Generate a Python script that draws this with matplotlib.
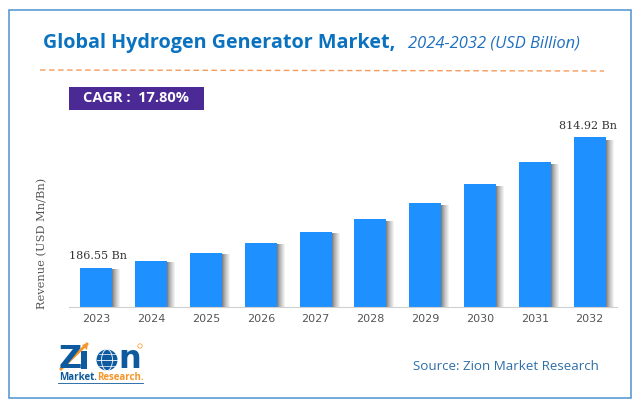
import matplotlib
matplotlib.use('Agg')
import matplotlib.pyplot as plt
from matplotlib.patches import Rectangle, Circle, Ellipse, Polygon

WIDTH = 641
HEIGHT = 408

years = ['2023', '2024', '2025', '2026', '2027', '2028', '2029', '2030', '2031', '2032']
revenue = [186.55, 220, 259, 305, 360, 420, 498, 590, 695, 814.92]
first_label = '186.55 Bn'
last_label = '814.92 Bn'


def px_axes(fig, left, top, right, bottom):
    return fig.add_axes([left / WIDTH, 1 - bottom / HEIGHT,
                         (right - left) / WIDTH, (bottom - top) / HEIGHT])


fig = plt.figure(figsize=(WIDTH / 100, HEIGHT / 100), dpi=100, facecolor='white')

# overlay in pixel coordinates for the frame, title and logo
bg = fig.add_axes([0, 0, 1, 1])
bg.set_xlim(0, WIDTH)
bg.set_ylim(HEIGHT, 0)
bg.axis('off')

bg.add_patch(Rectangle((8.5, 9.5), 622, 388, fill=False, ec='#5b9bd5', lw=1.2))

bg.text(43, 43, 'Global Hydrogen Generator Market,', family='Open Sans', fontweight='bold',
        fontsize=14.2, color='#0b72c0', va='center', ha='left')
bg.text(408, 44, '2024-2032 (USD Billion)', family='Open Sans', style='italic',
        fontsize=11.9, color='#1f6fbf', va='center', ha='left')
bg.plot([40, 604], [70, 71], color='#f59a5b', lw=1, dashes=(4, 2.5))

bg.add_patch(Rectangle((69, 87), 135, 23, fc='#4b2a96', ec='none'))
bg.text(136, 98.5, 'CAGR :  17.80%', family='Open Sans', fontweight='bold', fontsize=10.5,
        color='white', va='center', ha='center')

bg.text(42, 243, 'Revenue (USD Mn/Bn)', family='DejaVu Serif', fontsize=8.2, color='#555555',
        rotation=90, va='center', ha='center')
bg.text(413, 367, 'Source: Zion Market Research', family='Open Sans', fontsize=9.6,
        color='#2f6ea8', va='center', ha='left')

# logo
navy = '#0d5a9e'
orange = '#f5962a'
bg.text(59, 360, 'Z', family='DejaVu Sans', fontweight='bold', fontsize=23, color=navy,
        va='center', ha='left')
bg.plot([61, 87], [369, 344], color=orange, lw=2)
bg.add_patch(Polygon([[82, 345], [88, 343], [87, 350]], fc=orange, ec='none'))
bg.add_patch(Rectangle((81, 351), 6, 18, fc=navy, ec='none'))
bg.add_patch(Circle((107, 360), 10.5, fc=navy, ec='none'))
bg.add_patch(Ellipse((107, 360), 11, 21, fill=False, ec='white', lw=0.6))
bg.plot([97, 117], [360, 360], color='white', lw=0.6)
bg.plot([99, 115], [354, 354], color='white', lw=0.5)
bg.plot([99, 115], [366, 366], color='white', lw=0.5)
bg.text(130, 360, 'n', family='DejaVu Sans', fontweight='bold', fontsize=23, color=navy,
        va='center', ha='center')
bg.text(59, 378, 'Market.', family='Open Sans', fontweight='bold', fontsize=7, color=navy,
        va='center', ha='left')
bg.text(97, 378, 'Research.', family='Open Sans', fontweight='bold', fontsize=7, color=orange,
        va='center', ha='left')
bg.plot([58, 143], [383, 383], color=navy, lw=0.6)
bg.add_patch(Circle((140, 346), 2.2, fill=False, ec=orange, lw=0.5))

# chart, 1 data unit of x is one category slot
ax = px_axes(fig, 69, 110, 617, 307)
ax.patch.set_alpha(0)
positions = list(range(len(years)))
ax.set_xlim(-0.5, len(years) - 0.5)
ax.set_ylim(0, 197 / 170 * revenue[-1])

bar_w = 32 / 54.8
slot_px = 54.8

# soft shadow on the right of each bar, built from thin steps
steps = 9
for i in range(steps):
    off = (i + 1) / slot_px
    shade = 0.50 + 0.5 * (i / (steps - 1)) ** 0.8
    ax.bar([p + off for p in positions], [v * 0.985 for v in revenue], width=bar_w,
           color=(shade, shade, shade), zorder=1 + (steps - i))
ax.bar(positions, revenue, width=bar_w, color='#1e90ff', zorder=20)

for s in ['top', 'right', 'left']:
    ax.spines[s].set_visible(False)
ax.spines['bottom'].set_color('#d0d0d0')
ax.spines['bottom'].set_zorder(30)
ax.set_yticks([])
ax.set_xticks(positions)
ax.set_xticklabels(years, family='DejaVu Sans', fontsize=8, color='#555555')
ax.tick_params(axis='x', length=0, pad=5)

ax.annotate(first_label, (positions[0], revenue[0]), xytext=(1, 5), textcoords='offset points',
            ha='center', va='bottom', family='DejaVu Serif', fontsize=8, color='#333333')
ax.annotate(last_label, (positions[-1], revenue[-1]), xytext=(-1, 4), textcoords='offset points',
            ha='center', va='bottom', family='DejaVu Serif', fontsize=8, color='#333333',
            annotation_clip=False)

fig.savefig('out.png', dpi=100)
